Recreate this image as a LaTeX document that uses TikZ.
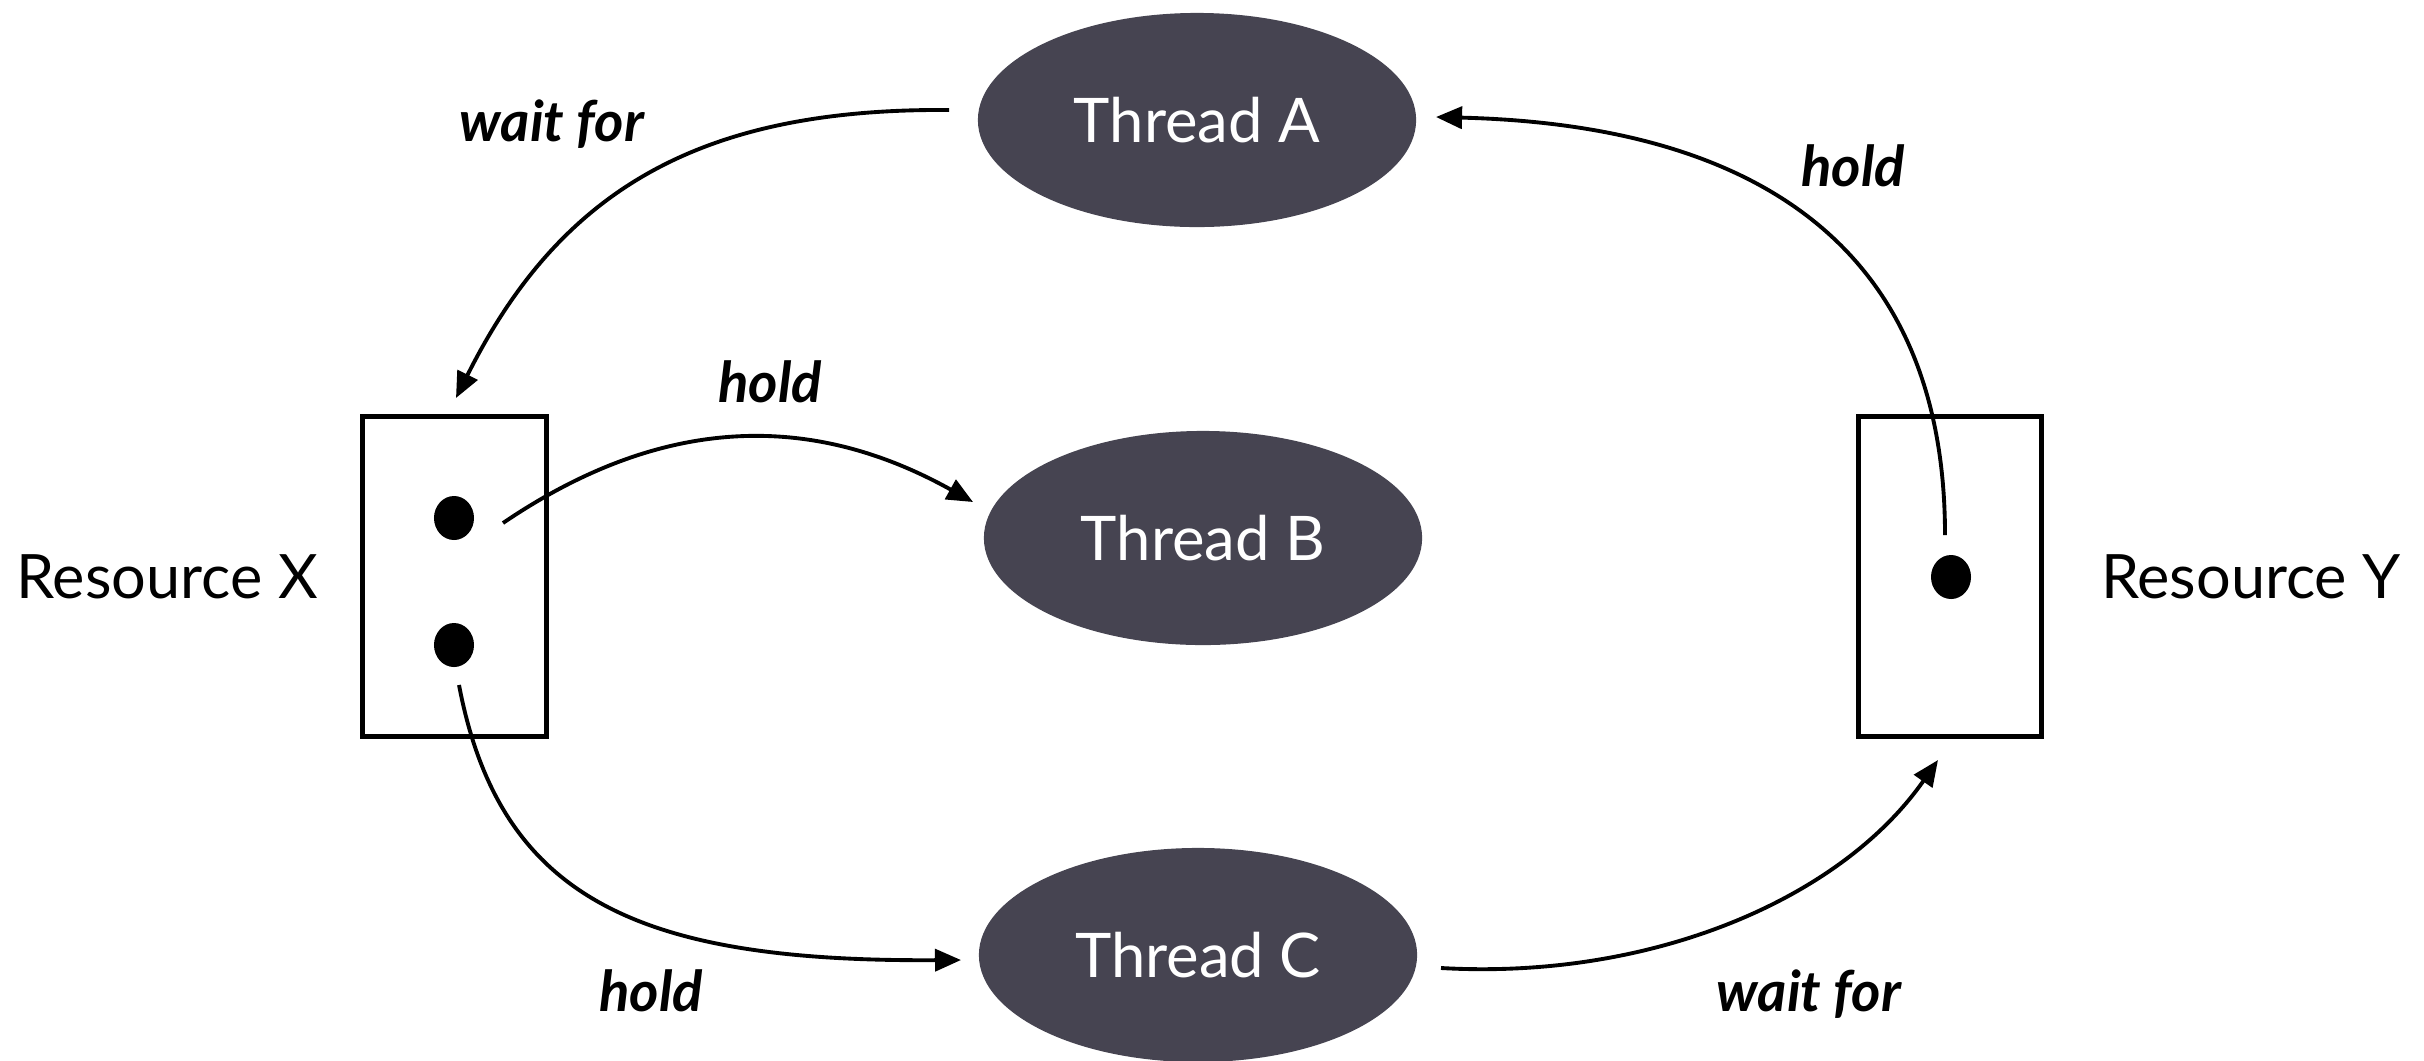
\documentclass[tikz,border=0pt]{standalone}
\usepackage{fontspec}
\setmainfont{Lato}
\usetikzlibrary{shapes.geometric,arrows.meta}
\definecolor{thr}{HTML}{464451}
\tikzset{
  thread/.style={ellipse, fill=thr, text=white, minimum width=4.38cm, minimum height=2.14cm, inner sep=0pt, font=\fontsize{17.5}{20}\selectfont},
  res/.style={draw, line width=1.4pt, minimum width=1.83cm, minimum height=3.19cm, inner sep=0pt},
  tok/.style={ellipse, fill=black, minimum width=0.40cm, minimum height=0.44cm, inner sep=0pt},
  lab/.style={font=\fontsize{17.4}{20}\selectfont},
  elab/.style={font=\fontsize{16}{19}\selectfont\itshape\bfseries},
  conn/.style={line width=1.1pt, -{Triangle[length=0.26cm,width=0.22cm]}},
}
\begin{document}
\begin{tikzpicture}[x=0.01cm,y=-0.01cm]
\useasboundingbox (0,0) rectangle (2424,1060);
\node[thread] (A) at (1197,120) {Thread A};
\node[thread] (B) at (1203,538) {Thread B};
\node[thread] (C) at (1198,955) {Thread C};
\node[res] (X) at (454.5,576.5) {};
\node[res] (Y) at (1950,576.5) {};
\node[tok] (x1) at (454,518) {};
\node[tok] (x2) at (454,645) {};
\node[tok] (y1) at (1951,577) {};
\node[lab] (lx) at (167,577) {Resource X};
\node[lab] (ly) at (2251,577) {Resource Y};
\node[elab] (l1) at (552,124) {wait for};
\node[elab] (l2) at (1853,166) {hold};
\node[elab] (l3) at (770,382) {hold};
\node[elab] (l4) at (651,991) {hold};
\node[elab] (l5) at (1809,994) {wait for};
\coordinate (a1) at (949,110);
\coordinate (a1e) at (456,398);
\draw[conn] (a1) .. controls (700,108) and (560,190) .. (a1e);
\coordinate (b1) at (503,523);
\coordinate (b1e) at (973,502);
\draw[conn] (b1) .. controls (640,430) and (790,400) .. (b1e);
\coordinate (c1) at (459,685);
\coordinate (c1e) at (961,960);
\draw[conn] (c1) .. controls (500,900) and (640,962) .. (c1e);
\coordinate (d1) at (1441,968);
\coordinate (d1e) at (1938,760);
\draw[conn] (d1) .. controls (1650,980) and (1840,900) .. (d1e);
\coordinate (e1) at (1945,535);
\coordinate (e1e) at (1436,117);
\draw[conn] (e1) .. controls (1945,250) and (1760,125) .. (e1e);
\end{tikzpicture}
\end{document}
